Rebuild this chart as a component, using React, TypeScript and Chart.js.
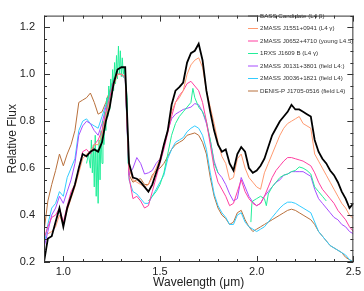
import { useEffect, useRef } from 'react';
import { Chart, registerables } from 'chart.js';
Chart.register(...registerables);

const WAVE = [
  0.90, 0.92, 0.94, 0.96, 0.98, 1.00, 1.02, 1.04, 1.06, 1.08,
  1.10, 1.12, 1.14, 1.16, 1.18, 1.20, 1.22, 1.24, 1.26, 1.28,
  1.30, 1.32, 1.34, 1.36, 1.38, 1.40, 1.42, 1.44, 1.46, 1.48,
  1.50, 1.52, 1.54, 1.56, 1.58, 1.60, 1.62, 1.64, 1.66, 1.68,
  1.70, 1.72, 1.74, 1.76, 1.78, 1.80, 1.82, 1.84, 1.86, 1.88,
  1.90, 1.92, 1.94, 1.96, 1.98, 2.00, 2.02, 2.04, 2.06, 2.08,
  2.10, 2.12, 2.14, 2.16, 2.18, 2.20, 2.22, 2.24, 2.26, 2.28,
  2.30, 2.32, 2.34, 2.36, 2.38, 2.40, 2.42, 2.44, 2.46, 2.48, 2.50,
];

const BASS = [
  0.20, 0.30, 0.31, 0.37, 0.43, 0.35, 0.43, 0.48, 0.53, 0.60,
  0.66, 0.65, 0.67, 0.68, 0.67, 0.71, 0.80, 0.86, 0.96, 1.02,
  1.03, 1.03, 0.62, 0.56, 0.555, 0.54, 0.52, 0.50, 0.53, 0.58,
  0.63, 0.70, 0.76, 0.87, 0.93, 0.945, 0.965, 1.05, 1.09, 1.10,
  1.13, 1.06, 0.93, 0.84, 0.76, 0.70, 0.67, 0.68, 0.62, 0.59,
  0.66, 0.69, 0.67, 0.60, 0.58, 0.59, 0.61, 0.64, 0.69, 0.74,
  0.77, 0.80, 0.82, 0.84, 0.87, 0.85, 0.85, 0.84, 0.83, 0.82,
  0.72, 0.67, 0.64, 0.62, 0.59, 0.57, 0.54, 0.50, 0.47, 0.43, 0.45,
];

const J1551 = [
  null, 0.32, 0.33, 0.35, 0.40, 0.36, 0.42, 0.47, 0.52, 0.58,
  0.64, 0.66, 0.67, 0.70, 0.70, 0.74, 0.82, 0.88, 0.95, 1.00,
  1.00, 0.99, 0.60, 0.55, 0.54, 0.53, 0.52, 0.53, 0.56, 0.60,
  0.64, 0.70, 0.76, 0.84, 0.88, 0.90, 0.93, 1.00, 1.04, 1.06,
  1.07, 1.03, 0.93, 0.86, 0.79, 0.71, 0.65, 0.62, 0.55, 0.56,
  0.64, 0.66, 0.60, 0.56, 0.54, 0.52, 0.51, 0.58, 0.62, 0.66,
  0.70, 0.74, 0.77, 0.79, 0.80, 0.81, 0.82, 0.79, 0.78, 0.77,
  0.66, 0.63, 0.60, 0.57, 0.54, 0.51, 0.48, 0.45, 0.43, 0.40, 0.385,
];

const J0652 = [
  0.30, 0.35, 0.39, 0.40, 0.43, 0.37, 0.44, 0.50, 0.53, 0.60,
  0.67, 0.68, 0.66, 0.70, 0.72, 0.76, 0.84, 0.90, 0.97, 1.00,
  1.00, 0.99, 0.56, 0.47, 0.48, 0.46, 0.43, 0.44, 0.50, 0.56,
  0.62, 0.68, 0.75, 0.82, 0.88, 0.91, 0.93, 0.96, 0.97, 0.95,
  0.93, 0.88, 0.80, 0.70, 0.60, 0.54, 0.51, 0.48, 0.44, 0.45,
  0.50, 0.55, 0.50, 0.47, 0.45, 0.44, 0.45, 0.48, 0.52, 0.56,
  0.59, 0.61, 0.63, 0.645, 0.645, 0.64, 0.635, 0.63, 0.62, 0.61,
  0.58, 0.54, 0.51, 0.49, 0.47, 0.45, 0.42, 0.40, 0.38, 0.35, 0.33,
];

const J0131 = [
  0.26, 0.33, 0.40, 0.43, 0.48, 0.45, 0.50, 0.55, 0.62, 0.74,
  0.78, 0.80, 0.79, 0.76, 0.74, 0.79, 0.86, 0.92, 0.97, 1.00,
  1.00, 0.99, 0.57, 0.60, 0.645, 0.62, 0.575, 0.58, 0.59, 0.62,
  0.64, 0.69, 0.76, 0.81, 0.83, 0.84, 0.85, 0.855, 0.86, 0.875,
  0.87, 0.84, 0.79, 0.72, 0.63, 0.58, 0.56, 0.53, 0.49, 0.46,
  0.47, 0.56, 0.52, 0.48, 0.455, 0.44, 0.45, 0.48, 0.50, 0.52,
  0.54, 0.55, 0.57, 0.575, 0.585, 0.585, 0.585, 0.585, 0.575, 0.565,
  0.51, 0.47, 0.45, 0.43, 0.41, 0.39, 0.38, 0.36, 0.35, 0.33, 0.32,
];

const J0036 = [
  0.27, 0.36, 0.43, 0.45, 0.50, 0.48, 0.56, 0.60, 0.64, 0.76,
  0.80, 0.81, 0.79, 0.78, 0.77, 0.82, 0.87, 0.92, 0.98, 1.00,
  1.00, 0.98, 0.55, 0.50, 0.49, 0.47, 0.45, 0.45, 0.48, 0.51,
  0.54, 0.57, 0.64, 0.68, 0.71, 0.72, 0.73, 0.755, 0.77, 0.78,
  0.77, 0.74, 0.68, 0.58, 0.49, 0.44, 0.41, 0.39, 0.36, 0.36,
  0.40, 0.41, 0.37, 0.35, 0.34, 0.33, 0.34, 0.35, 0.37, 0.39,
  0.41, 0.43, 0.445, 0.455, 0.455, 0.45, 0.44, 0.43, 0.42, 0.41,
  0.37, 0.33, 0.31, 0.29, 0.27, 0.26, 0.25, 0.24, 0.23, 0.21, 0.20,
];

const J1705 = [
  0.33, 0.46, 0.53, 0.59, 0.66, 0.61, 0.66, 0.70, 0.76, 0.88,
  0.89, 0.90, 0.92, 0.88, 0.83, 0.84, 0.88, 0.93, 0.98, 1.00,
  1.00, 0.98, 0.57, 0.54, 0.55, 0.555, 0.53, 0.53, 0.57, 0.59,
  0.60, 0.62, 0.65, 0.68, 0.70, 0.71, 0.72, 0.74, 0.745, 0.75,
  0.74, 0.71, 0.66, 0.56, 0.48, 0.43, 0.40, 0.385, 0.36, 0.37,
  0.41, 0.42, 0.38, 0.35, 0.33, 0.34, 0.35, 0.36, 0.37, 0.38,
  0.39, 0.40, 0.41, 0.42, 0.425, 0.42, 0.41, 0.40, 0.39, 0.38,
  0.36, 0.33, 0.31, 0.29, 0.27, 0.26, 0.25, 0.24, 0.22, 0.21, 0.20,
];

// 1RXS J1609 B has its own (noisier, gapped) sampling
const J1609_WAVE = [
  1.120, 1.130, 1.140, 1.145, 1.150, 1.155, 1.160, 1.165, 1.170, 1.175,
  1.180, 1.185, 1.190, 1.195, 1.200, 1.205, 1.210, 1.215, 1.220, 1.225,
  1.230, 1.235, 1.240, 1.245, 1.250, 1.255, 1.260, 1.265, 1.270, 1.275,
  1.280, 1.285, 1.290, 1.295, 1.300, 1.305, 1.310, 1.315, 1.320, 1.330,
  1.335, 1.390,
  1.44, 1.46, 1.48, 1.50, 1.52, 1.54, 1.56, 1.58, 1.60, 1.62,
  1.64, 1.66, 1.67, 1.68, 1.70, 1.72, 1.74, 1.76, 1.78, 1.80,
  1.90,
  1.97, 1.975, 1.98, 2.00, 2.02, 2.04, 2.05, 2.06, 2.08, 2.10,
  2.12, 2.14, 2.16, 2.18, 2.20, 2.22, 2.24, 2.26, 2.28, 2.30,
  2.32, 2.34, 2.36,
];
const J1609 = [
  0.62, 0.66, 0.60, 0.72, 0.58, 0.70, 0.52, 0.74, 0.48, 0.68,
  0.45, 0.72, 0.55, 0.76, 0.62, 0.80, 0.70, 0.84, 0.76, 0.90,
  0.82, 0.95, 0.85, 0.98, 0.90, 1.02, 0.93, 1.05, 0.96, 1.08,
  0.98, 1.12, 1.00, 1.10, 0.99, 1.07, 1.00, 1.03, 0.98, 0.90,
  0.62, null,
  0.46, 0.48, 0.50, 0.53, 0.58, 0.66, 0.74, 0.79, 0.82, 0.84,
  0.86, 0.88, 0.94, 0.90, 0.86, 0.84, 0.80, 0.72, 0.62, 0.58,
  null,
  0.37, 0.45, 0.46, 0.47, 0.48, 0.47, 0.44, 0.49, 0.52, 0.54,
  0.56, 0.57, 0.575, 0.585, 0.59, 0.605, 0.60, 0.59, 0.575, 0.52,
  0.50, 0.48, 0.46,
];

const X_TICKS = [1.0, 1.5, 2.0, 2.5];
const Y_TICKS = [0.2, 0.4, 0.6, 0.8, 1.0, 1.2];

const SERIES = [
  { label: 'BASS Candidate (L4 β)', wave: WAVE, flux: BASS, color: '#000000', width: 1.8 },
  { label: '2MASS J1551+0941 (L4 γ)', wave: WAVE, flux: J1551, color: '#ff9a70', width: 1 },
  { label: '2MASS J0652+4710 (young L4.5)', wave: WAVE, flux: J0652, color: '#ff3fa0', width: 1 },
  { label: '1RXS J1609 B (L4 γ)', wave: J1609_WAVE, flux: J1609, color: '#22ee99', width: 1 },
  { label: '2MASS J0131+3801 (field L4:)', wave: WAVE, flux: J0131, color: '#a64dff', width: 1 },
  { label: '2MASS J0036+1821 (field L4)', wave: WAVE, flux: J0036, color: '#33ccff', width: 1 },
  { label: 'DENIS-P J1705-0516 (field L4)', wave: WAVE, flux: J1705, color: '#b8703c', width: 1 },
];

const FONT = '"Liberation Sans", Arial, Helvetica, sans-serif';

const framePlugin = {
  id: 'frame',
  afterDatasetsDraw(chart: any) {
    const { ctx, chartArea, scales } = chart;
    const { left, right, top, bottom } = chartArea;
    const xs = scales.x;
    const ys = scales.y;
    ctx.save();
    ctx.strokeStyle = '#333';
    ctx.lineWidth = 1;
    ctx.strokeRect(left + 0.5, top + 0.5, right - left - 1, bottom - top - 1);
    ctx.beginPath();
    for (let k = 9; k <= 25; k++) {
      const v = k / 10;
      const px = Math.round(xs.getPixelForValue(v)) + 0.5;
      const major = X_TICKS.some((t) => Math.abs(t - v) < 1e-6);
      const len = major ? 6 : 3;
      ctx.moveTo(px, bottom);
      ctx.lineTo(px, bottom - len);
      ctx.moveTo(px, top);
      ctx.lineTo(px, top + len);
    }
    for (let k = 4; k <= 25; k++) {
      const v = k / 20;
      const py = Math.round(ys.getPixelForValue(v)) + 0.5;
      const major = Y_TICKS.some((t) => Math.abs(t - v) < 1e-6);
      const len = major ? 6 : 3;
      ctx.moveTo(left, py);
      ctx.lineTo(left + len, py);
      ctx.moveTo(right, py);
      ctx.lineTo(right - len, py);
    }
    ctx.stroke();

    ctx.font = `6.2px ${FONT}`;
    ctx.textBaseline = 'middle';
    ctx.textAlign = 'left';
    SERIES.forEach((s, i) => {
      const y = 15.5 + 12.5 * i;
      ctx.beginPath();
      ctx.strokeStyle = s.color === '#000000' ? '#444' : s.color;
      ctx.lineWidth = 1;
      ctx.moveTo(248, y + 0.5);
      ctx.lineTo(258, y + 0.5);
      ctx.stroke();
      ctx.fillStyle = '#333';
      ctx.fillText(s.label, 260, y + 0.5);
    });
    ctx.restore();
  },
};

export default function App() {
  const ref = useRef<HTMLCanvasElement | null>(null);
  useEffect(() => {
    document.body.style.margin = '0';
    const canvas = ref.current;
    if (!canvas) return;
    const chart = new Chart(canvas, {
      type: 'line',
      data: {
        datasets: SERIES.map((s) => ({
          label: s.label,
          data: s.wave.map((x, i) => ({ x, y: s.flux[i] })),
          borderColor: s.color,
          borderWidth: s.width,
          pointRadius: 0,
          fill: false,
          tension: 0,
          spanGaps: false,
        })),
      },
      options: {
        responsive: false,
        animation: false,
        devicePixelRatio: 1,
        layout: { padding: { top: 6, right: 10, left: 0, bottom: 0 } },
        plugins: { legend: { display: false }, tooltip: { enabled: false } },
        scales: {
          x: {
            type: 'linear',
            min: 0.9,
            max: 2.5,
            grid: { display: false, drawTicks: false },
            border: { display: false },
            afterBuildTicks: (s: any) => {
              s.ticks = X_TICKS.map((v) => ({ value: v }));
            },
            afterFit: (s: any) => {
              s.height = 29;
            },
            ticks: {
              padding: 3,
              color: '#222',
              font: { family: FONT, size: 11 },
              callback: (v: any) => Number(v).toFixed(1),
              maxRotation: 0,
            },
            title: {
              display: true,
              text: 'Wavelength (μm)',
              color: '#222',
              font: { family: FONT, size: 12 },
              padding: { top: 0, bottom: 1 },
            },
          },
          y: {
            type: 'linear',
            min: 0.2,
            max: 1.25,
            grid: { display: false, drawTicks: false },
            border: { display: false },
            afterBuildTicks: (s: any) => {
              s.ticks = Y_TICKS.map((v) => ({ value: v }));
            },
            afterFit: (s: any) => {
              s.width = 44;
            },
            ticks: {
              padding: 9,
              color: '#222',
              font: { family: FONT, size: 11 },
              callback: (v: any) => Number(v).toFixed(1),
            },
            title: {
              display: true,
              text: 'Relative Flux',
              color: '#222',
              font: { family: FONT, size: 12 },
              padding: { top: 5, bottom: 0 },
            },
          },
        },
      },
      plugins: [framePlugin],
    });
    return () => chart.destroy();
  }, []);
  return <canvas ref={ref} width={364} height={291} style={{ display: 'block' }} />;
}
